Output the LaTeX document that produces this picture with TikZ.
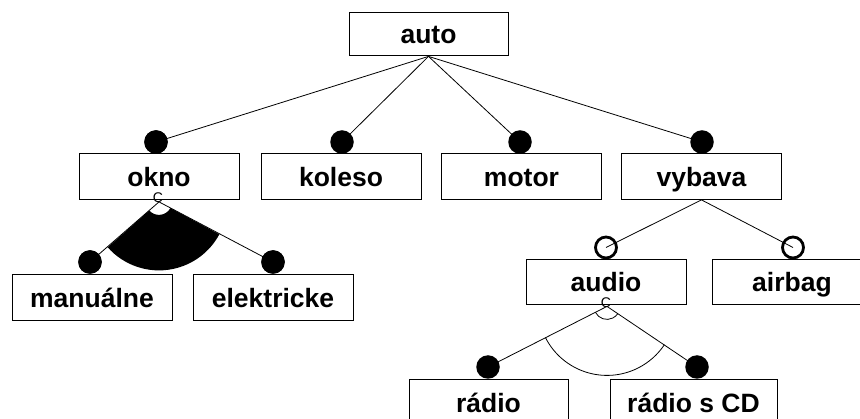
\documentclass[tikz,border=0pt]{standalone}
\usepackage{fontspec}
\setmainfont{Liberation Sans}
\usetikzlibrary{calc}
\begin{document}
\begin{tikzpicture}[x=1pt,y=-1pt,
  box/.style={draw=black,line width=0.8pt,minimum width=160pt,minimum height=46pt,inner sep=0pt,
    text height=22pt,text depth=1pt,
    font=\fontsize{26.5}{30}\selectfont\bfseries},
  dot/.style={circle,fill=black,inner sep=0pt,minimum size=23.5pt},
  odot/.style={circle,draw=black,line width=2.8pt,inner sep=0pt,minimum size=21pt},
  conn/.style={draw=black,line width=0.8pt},
  clabel/.style={inner sep=0pt,font=\fontsize{14}{14}\selectfont}]
\useasboundingbox (0,0) rectangle (860,419);
\clip (0,0) rectangle (860,419);
% boxes
\node[box,minimum height=43pt,minimum width=159pt] (auto) at (428.5,33.5) {auto};
\node[box] (okno) at (159,176.5) {okno};
\node[box] (koleso) at (341,176.5) {koleso};
\node[box] (motor) at (521.5,176.5) {motor};
\node[box] (vybava) at (701.5,176.5) {vybava};
\node[box] (manualne) at (92,297) {manuálne};
\node[box] (elektricke) at (273,297) {elektricke};
\node[box,minimum height=45pt] (audio) at (606,281.5) {audio};
\node[box,minimum height=45pt] (airbag) at (792,281.5) {airbag};
\node[box,minimum width=159pt] (radio) at (488.5,402) {rádio};
\node[box,minimum width=167pt] (radiocd) at (693.5,402) {rádio s CD};
% circles
\node[dot] (d-okno) at (156,142) {};
\node[dot] (d-koleso) at (342,142) {};
\node[dot] (d-motor) at (520,142) {};
\node[dot] (d-vybava) at (702,142) {};
\node[dot] (d-man) at (90,262) {};
\node[dot] (d-ele) at (273,262) {};
\node[dot] (d-radio) at (488,367) {};
\node[dot] (d-radiocd) at (697,367) {};
\node[odot] (o-audio) at (606,247.5) {};
\node[odot] (o-airbag) at (793,247.5) {};
% connection points
\coordinate (Ao) at ($(auto.south)+(0,1)$);
\coordinate (Ok) at ($(okno.south)+(0,2)$);
\coordinate (Vy) at (vybava.south);
\coordinate (Au) at ($(audio.south)+(1,2)$);
% connectors from auto
\draw[conn] (Ao) -- (d-okno.center);
\draw[conn] (Ao) -- (d-koleso.center);
\draw[conn] (Ao) -- (d-motor.center);
\draw[conn] (Ao) -- (d-vybava.center);
% okno group (filled sector)
\fill[black] ($(Ok)+(221.5:68.5pt)$) arc[start angle=221.5,end angle=331.8,radius=68.5pt]
  -- ($(Ok)+(331.8:13pt)$) arc[start angle=331.8,end angle=221.5,radius=13pt] -- cycle;
\draw[conn] (Ok) -- (d-man.center);
\draw[conn] (Ok) -- (d-ele.center);
\node[clabel] (c-okno) at ($(okno.south)+(-1,-2.5)$) {C};
% vybava
\draw[conn] (Vy) -- (o-audio.center);
\draw[conn] (Vy) -- (o-airbag.center);
% audio group (open arcs)
\draw[conn] ($(Au)+(206.8:69pt)$) arc[start angle=206.8,end angle=326.3,radius=69pt];
\draw[conn] ($(Au)+(206.8:13pt)$) arc[start angle=206.8,end angle=326.3,radius=13pt];
\draw[conn] (Au) -- (d-radio.center);
\draw[conn] (Au) -- (d-radiocd.center);
\node[clabel] (c-audio) at ($(audio.south)+(0,-2)$) {C};
% redraw circles on top
\node[dot] at (d-okno) {};
\node[dot] at (d-man) {};
\node[dot] at (d-ele) {};
\end{tikzpicture}
\end{document}
